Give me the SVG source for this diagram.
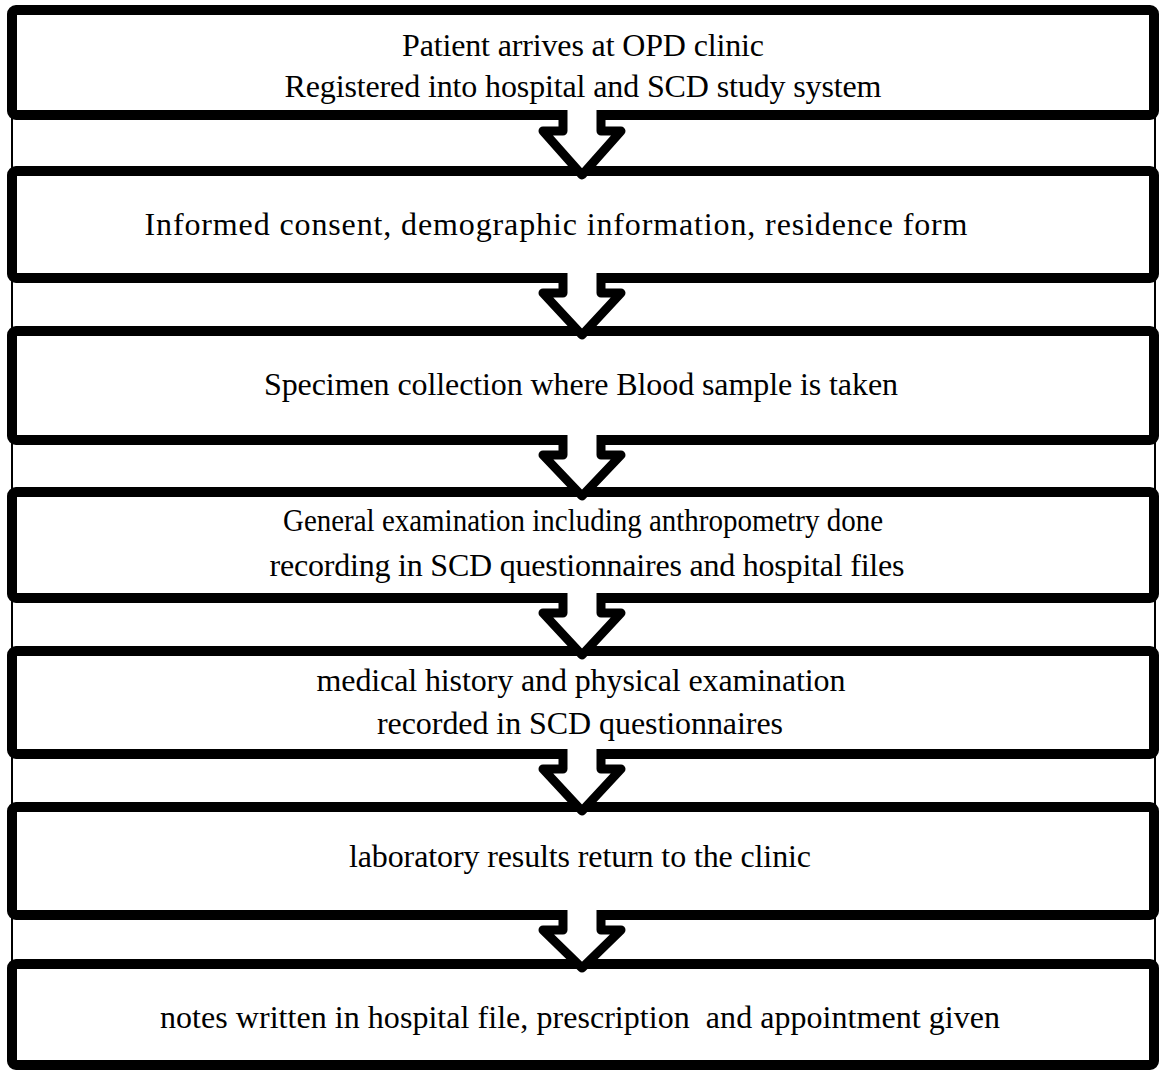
<svg xmlns="http://www.w3.org/2000/svg" width="1160" height="1071" viewBox="0 0 1160 1071">
  <style>
    .box { fill: #fff; stroke: #000; stroke-width: 10; }
    .frame { stroke: #000; stroke-width: 2; fill: none; }
    .arrow-fill { fill: #fff; stroke: none; }
    .arrow-line { fill: none; stroke: #000; stroke-width: 9; stroke-linejoin: round; stroke-linecap: butt; }
    text { font-family: "Liberation Serif", "Times New Roman", serif; font-size: 32px; fill: #000; text-anchor: middle; white-space: pre; }
  </style>

  <!-- thin side rails joining the boxes -->
  <g id="frame">
    <line class="frame" x1="12" y1="115" x2="12" y2="1065"/>
    <line class="frame" x1="1155" y1="115" x2="1155" y2="1065"/>
  </g>

  <g id="step1">
    <rect class="box" x="12" y="10" width="1142" height="105" rx="4"/>
    <text x="583" y="56" textLength="362" lengthAdjust="spacing">Patient arrives at OPD clinic</text>
    <text x="583" y="97" textLength="597" lengthAdjust="spacing">Registered into hospital and SCD study system</text>
  </g>
  <g id="step2">
    <rect class="box" x="12" y="171" width="1142" height="107" rx="4"/>
    <text x="556" y="235" textLength="823" lengthAdjust="spacing">Informed consent, demographic information, residence form</text>
  </g>
  <g id="step3">
    <rect class="box" x="12" y="331" width="1142" height="109" rx="4"/>
    <text x="581" y="395" textLength="634" lengthAdjust="spacing">Specimen collection where Blood sample is taken</text>
  </g>
  <g id="step4">
    <rect class="box" x="12" y="492" width="1142" height="106" rx="4"/>
    <text x="583" y="531" textLength="600" lengthAdjust="spacingAndGlyphs">General examination including anthropometry done</text>
    <text x="587" y="576" textLength="635" lengthAdjust="spacing">recording in SCD questionnaires and hospital files</text>
  </g>
  <g id="step5">
    <rect class="box" x="12" y="651" width="1142" height="103" rx="4"/>
    <text x="581" y="691" textLength="529" lengthAdjust="spacing">medical history and physical examination</text>
    <text x="580" y="734" textLength="406" lengthAdjust="spacing">recorded in SCD questionnaires</text>
  </g>
  <g id="step6">
    <rect class="box" x="12" y="807" width="1142" height="108" rx="4"/>
    <text x="580" y="867" textLength="462" lengthAdjust="spacing">laboratory results return to the clinic</text>
  </g>
  <g id="step7">
    <rect class="box" x="12" y="964" width="1142" height="101" rx="4"/>
    <text x="580" y="1028" textLength="840" lengthAdjust="spacing">notes written in hospital file, prescription  and appointment given</text>
  </g>

  <!-- block arrows: white body laid over the box edges, outline open at the top -->
  <g id="connectors">
    <g id="arrow1">
      <polygon class="arrow-fill" points="563,110 563,131 543,131 582,175 621,131 601,131 601,110"/>
      <polyline class="arrow-line" points="563,110 563,131 543,131 582,175 621,131 601,131 601,110"/>
    </g>
    <g id="arrow2">
      <polygon class="arrow-fill" points="563,273 563,293 543,293 582,335 621,293 601,293 601,273"/>
      <polyline class="arrow-line" points="563,273 563,293 543,293 582,335 621,293 601,293 601,273"/>
    </g>
    <g id="arrow3">
      <polygon class="arrow-fill" points="563,435 563,455 543,455 582,496 621,455 601,455 601,435"/>
      <polyline class="arrow-line" points="563,435 563,455 543,455 582,496 621,455 601,455 601,435"/>
    </g>
    <g id="arrow4">
      <polygon class="arrow-fill" points="563,593 563,613 543,613 582,655 621,613 601,613 601,593"/>
      <polyline class="arrow-line" points="563,593 563,613 543,613 582,655 621,613 601,613 601,593"/>
    </g>
    <g id="arrow5">
      <polygon class="arrow-fill" points="563,749 563,769 543,769 582,811 621,769 601,769 601,749"/>
      <polyline class="arrow-line" points="563,749 563,769 543,769 582,811 621,769 601,769 601,749"/>
    </g>
    <g id="arrow6">
      <polygon class="arrow-fill" points="563,910 563,930 543,930 582,968 621,930 601,930 601,910"/>
      <polyline class="arrow-line" points="563,910 563,930 543,930 582,968 621,930 601,930 601,910"/>
    </g>
  </g>
</svg>
